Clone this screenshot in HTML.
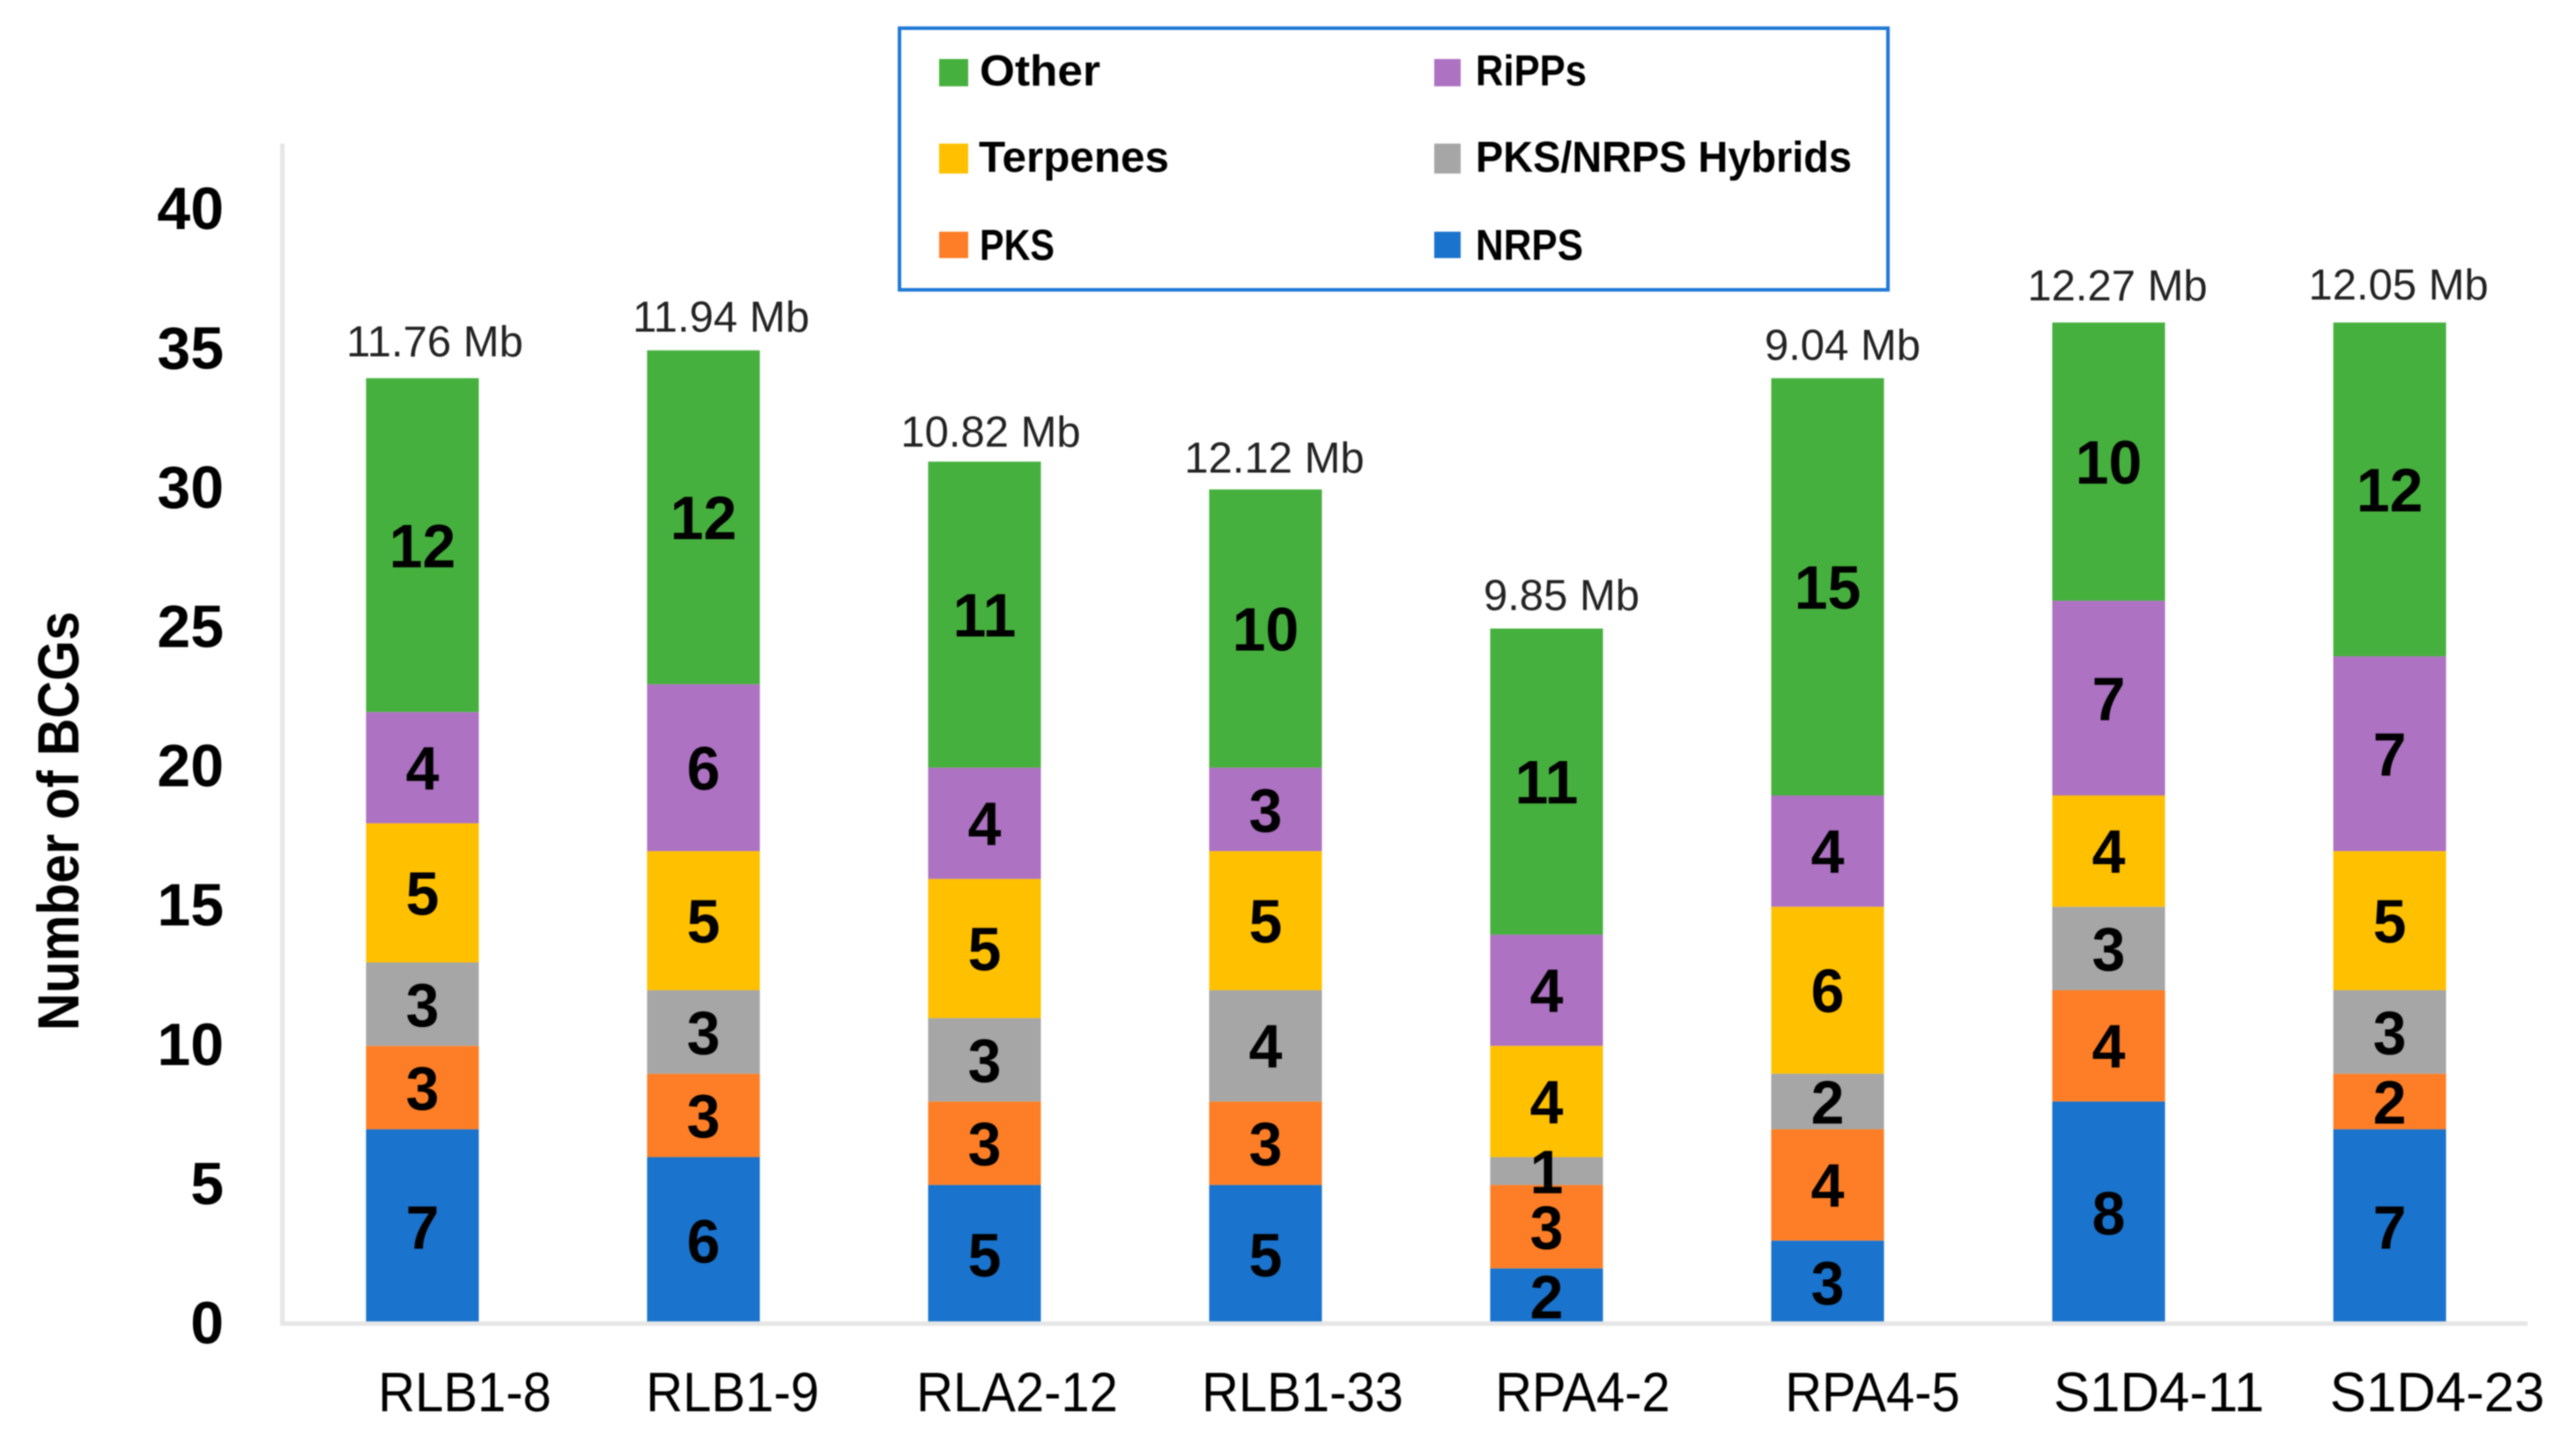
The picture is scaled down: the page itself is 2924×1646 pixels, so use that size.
<!DOCTYPE html>
<html lang="en">
<head>
<meta charset="utf-8">
<title>Number of BCGs per strain</title>
<style>
  html, body { margin: 0; padding: 0; background: #fff; }
  svg { display: block; filter: blur(0.7px); }
  text { font-family: "Liberation Sans", sans-serif; fill: #000; }
  .legend-text { font-size: 49px; font-weight: 700; }
</style>
</head>
<body>
<svg id="chart" xmlns="http://www.w3.org/2000/svg" width="2924" height="1646" viewBox="0 0 2924 1646">
  <rect x="0" y="0" width="2924" height="1646" fill="#ffffff"/>
  <g id="marks"></g>
  <rect x="318" y="163" width="5" height="1342" fill="#e6e6e6"/>
  <rect x="318" y="1500" width="2551" height="5" fill="#e6e6e6"/>
  <g id="labels"></g>
  <text transform="translate(89,932) rotate(-90)" text-anchor="middle" font-size="66" font-weight="700" textLength="476" lengthAdjust="spacingAndGlyphs">Number of BCGs</text>

  <g>
    <rect x="1026" y="32" width="1122" height="297" fill="#ffffff" stroke="#1e78d6" stroke-width="4" transform="translate(-5,0)"/>
    <g>
      <rect x="1066" y="67" width="33" height="31" fill="#46b03e"/>
      <text class="legend-text" x="1112" y="97" textLength="137" lengthAdjust="spacingAndGlyphs">Other</text>
    </g>
    <g>
      <rect x="1628" y="67" width="30" height="31" fill="#ad72c2"/>
      <text class="legend-text" x="1675" y="97" textLength="126" lengthAdjust="spacingAndGlyphs">RiPPs</text>
    </g>
    <g>
      <rect x="1066" y="163" width="33" height="34" fill="#ffc000"/>
      <text class="legend-text" x="1111" y="195" textLength="216" lengthAdjust="spacingAndGlyphs">Terpenes</text>
    </g>
    <g>
      <rect x="1628" y="163" width="30" height="34" fill="#a6a6a6"/>
      <text class="legend-text" x="1675" y="195" textLength="427" lengthAdjust="spacingAndGlyphs">PKS/NRPS Hybrids</text>
    </g>
    <g>
      <rect x="1066" y="263" width="33" height="30" fill="#fd7e26"/>
      <text class="legend-text" x="1112" y="295" textLength="85" lengthAdjust="spacingAndGlyphs">PKS</text>
    </g>
    <g>
      <rect x="1628" y="263" width="30" height="30" fill="#1a73cc"/>
      <text class="legend-text" x="1675" y="295" textLength="122" lengthAdjust="spacingAndGlyphs">NRPS</text>
    </g>
  </g>
</svg>

<script>
const categories = ["RLB1-8", "RLB1-9", "RLA2-12", "RLB1-33", "RPA4-2", "RPA4-5", "S1D4-11", "S1D4-23"];
const genomeSizesMb = [11.76, 11.94, 10.82, 12.12, 9.85, 9.04, 12.27, 12.05];
const nrps = [7, 6, 5, 5, 2, 3, 8, 7];
const pks = [3, 3, 3, 3, 3, 4, 4, 2];
const hybrids = [3, 3, 3, 4, 1, 2, 3, 3];
const terpenes = [5, 5, 5, 5, 4, 6, 4, 5];
const ripps = [4, 6, 4, 3, 4, 4, 7, 7];
const other = [12, 12, 11, 10, 11, 15, 10, 12];
const yTicks = [0, 5, 10, 15, 20, 25, 30, 35, 40];

const series = [
  { key: "nrps", values: nrps, color: "#1a73cc" },
  { key: "pks", values: pks, color: "#fd7e26" },
  { key: "hybrids", values: hybrids, color: "#a6a6a6" },
  { key: "terpenes", values: terpenes, color: "#ffc000" },
  { key: "ripps", values: ripps, color: "#ad72c2" },
  { key: "other", values: other, color: "#46b03e" }
];

const NS = "http://www.w3.org/2000/svg";
const marks = document.getElementById("marks");
const labels = document.getElementById("labels");

function xCenter(i) { return 320 + (i + 0.5) * 319; }
function yScale(v) { return 1503 - v * 31.58; }
function yTickBaseline(v) { return 1525 - v * 31.62; }

function addText(parent, str, x, y, size, weight, anchor, widthFactor, fill) {
  const t = document.createElementNS(NS, "text");
  t.textContent = str;
  t.setAttribute("x", x);
  t.setAttribute("y", y);
  t.setAttribute("font-size", size);
  t.setAttribute("font-weight", weight);
  t.setAttribute("text-anchor", anchor);
  if (fill) t.style.fill = fill;
  parent.appendChild(t);
  const measured = t.getComputedTextLength();
  t.setAttribute("textLength", (measured * widthFactor).toFixed(1));
  t.setAttribute("lengthAdjust", "spacingAndGlyphs");
  return t;
}

function draw() {
  const barWidth = 128;
  /* hand-placed label offsets from the bar, as in the reference figure */
  const categoryLabelShift = [48, 33, 37, 42, 41, 51, 57, 54];
  const sizeLabelShift = [14, 20, 7, 10, 17, 17, 10, 10];
  const sizeLabelRise = [25, 21, 17, 19, 21, 21, 25, 26];

  yTicks.forEach(function (v) {
    const tick = addText(labels, String(v), 254, yTickBaseline(v), 68, 700, "end", 1, null);
    
    
  });

  categories.forEach(function (cat, i) {
    let stack = 0;
    series.forEach(function (s) {
      const v = s.values[i];
      const top = yScale(stack + v);
      const bottom = yScale(stack);
      const r = document.createElementNS(NS, "rect");
      
      
      r.setAttribute("x", xCenter(i) - barWidth / 2);
      r.setAttribute("y", top);
      r.setAttribute("width", barWidth);
      r.setAttribute("height", bottom - top);
      r.setAttribute("fill", s.color);
      marks.appendChild(r);

      const value = addText(labels, String(v), xCenter(i), (top + bottom) / 2 + 25, 70, 700, "middle", 0.97, null);
      
      
      stack += v;
    });

    const size = addText(labels, genomeSizesMb[i].toFixed(2) + " Mb", xCenter(i) + sizeLabelShift[i], yScale(stack) - sizeLabelRise[i], 49, 400, "middle", 1, "#222222");
    
    

    const catFactor = cat.charAt(0) === "S" ? 0.98 : 0.92;
    const catLabel = addText(labels, cat, xCenter(i) + categoryLabelShift[i], 1602, 63, 400, "middle", catFactor, null);
    
    
  });
}

draw();
</script>
</body>
</html>
